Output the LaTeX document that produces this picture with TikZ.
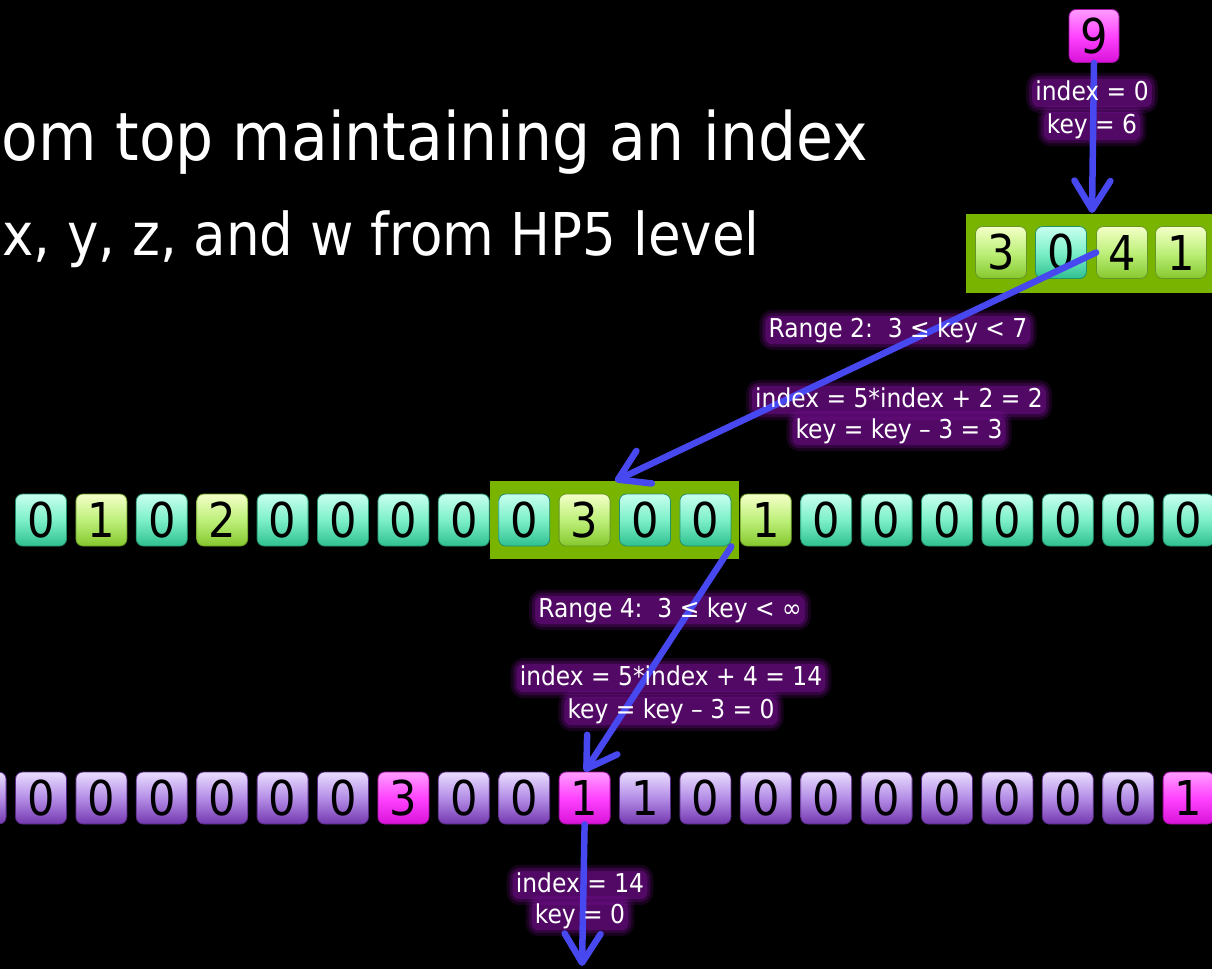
\documentclass[tikz,border=0pt]{standalone}
\usepackage{fontspec}
\setmainfont{DejaVu Sans Condensed}
\usetikzlibrary{arrows.meta}
\definecolor{tealTop}{HTML}{C8FFF0}
\definecolor{tealMid}{HTML}{7DF0C8}
\definecolor{tealBot}{HTML}{2FC090}
\definecolor{limeTop}{HTML}{F4FFC8}
\definecolor{limeMid}{HTML}{BDF07A}
\definecolor{limeBot}{HTML}{86C82E}
\definecolor{purTop}{HTML}{EADCFF}
\definecolor{purMid}{HTML}{B48EE6}
\definecolor{purBot}{HTML}{7438B0}
\definecolor{magTop}{HTML}{FF9CFF}
\definecolor{magMid}{HTML}{FF44FF}
\definecolor{magBot}{HTML}{D812D8}
\definecolor{hlgreen}{HTML}{78B400}
\definecolor{arrowc}{HTML}{4848F0}
\definecolor{glowc}{HTML}{A414CC}
\pgfdeclarelayer{back}
\pgfdeclarelayer{halo}
\pgfdeclarelayer{arrows}
\pgfsetlayers{back,halo,arrows,main}
\tikzset{
  cell/.style={rounded corners=7pt, minimum width=51pt, minimum height=52pt, inner sep=0pt,
    font=\fontsize{48}{48}\selectfont, text=black, line width=0.8pt},
  cellz/.style={cell, top color=tealTop, bottom color=tealBot, middle color=tealMid, draw=tealBot!75!black},
  celln/.style={cell, top color=limeTop, bottom color=limeBot, middle color=limeMid, draw=limeBot!75!black},
  cellp/.style={cell, top color=purTop, bottom color=purBot, middle color=purMid, draw=purBot!75!black},
  cellm/.style={cell, top color=magTop, bottom color=magBot, middle color=magMid, draw=magBot!75!black},
  hlbox/.style={fill=hlgreen, draw=none, inner sep=0pt},
  arr/.style={draw=arrowc, line width=6.5pt, line cap=round,
    -{Straight Barb[length=29pt, width=36pt, line cap=round, line join=round]}},
  lbl/.style={anchor=base, inner sep=0pt, text=white, font=\fontsize{26}{32}\selectfont,
    text height=19pt, text depth=5pt},
  title/.style={anchor=base east, inner sep=0pt, text=white}
}
\newcommand\halo[1]{%
  \begin{pgfonlayer}{halo}
    \fill[glowc, opacity=0.14, rounded corners=13pt] ([shift={(-9,-8)}]#1.north west) rectangle ([shift={(9,8)}]#1.south east);
    \fill[glowc, opacity=0.2, rounded corners=10pt] ([shift={(-6,-5)}]#1.north west) rectangle ([shift={(6,5)}]#1.south east);
    \fill[glowc, opacity=0.28, rounded corners=7pt] ([shift={(-3,-2)}]#1.north west) rectangle ([shift={(3,2)}]#1.south east);
  \end{pgfonlayer}}
\begin{document}
\begin{tikzpicture}[x=1pt,y=-1pt]
\useasboundingbox (0,0) rectangle (1212,969);
\begin{pgfonlayer}{back}
\fill[black] (0,0) rectangle (1212,969);
\clip (0,0) rectangle (1212,969);
% highlight rectangles
\node[hlbox, minimum width=264pt, minimum height=79pt] (thl) at (1098,253.5) {};
\node[hlbox, minimum width=249pt, minimum height=78pt] (mhl) at (614.5,520) {};
% top box
\node[cellm, minimum height=53pt, minimum width=50pt] (nine) at (1094,36) {9};
% top row
\node[celln] (t0) at (1001,252.5) {3};
\node[cellz] (t1) at (1061,252.5) {0};
\node[celln] (t2) at (1122,252.5) {4};
\node[celln] (t3) at (1181,252.5) {1};
% middle row
\foreach \s/\v [count=\i from 0] in {z/0,n/1,z/0,n/2,z/0,z/0,z/0,z/0,z/0,n/3,z/0,z/0,n/1,z/0,z/0,z/0,z/0,z/0,z/0,z/0}
  \node[cell\s] (mid\i) at ({41+60.4*\i},520) {\v};
% bottom row
\node[cellp] (botm) at ({41-60.4},798) {};
\foreach \s/\v [count=\i from 0] in {p/0,p/0,p/0,p/0,p/0,p/0,m/3,p/0,p/0,m/1,p/1,p/0,p/0,p/0,p/0,p/0,p/0,p/0,p/0,m/1}
  \node[cell\s] (bot\i) at ({41+60.4*\i},798) {\v};
\end{pgfonlayer}
% titles
\node[title, font=\fontsize{66.7}{70}\selectfont] (title1) at (868,160) {om top maintaining an index};
\node[title, font=\fontsize{59}{64}\selectfont] (title2) at (760,255) {x, y, z, and w from HP5 level};
% labels
\node[lbl] (l1a) at (1092,100) {index = 0};
\node[lbl] (l1b) at (1092,133) {key = 6};
\node[lbl] (l2) at (898,337) {Range 2:\ \ 3 ≤ key < 7};
\node[lbl] (l3a) at (899,407) {index = 5*index + 2 = 2};
\node[lbl] (l3b) at (899,438) {key = key – 3 = 3};
\node[lbl] (l4) at (670,617) {Range 4:\ \ 3 ≤ key < ∞};
\node[lbl] (l5a) at (671,685) {index = 5*index + 4 = 14};
\node[lbl] (l5b) at (671,718) {key = key – 3 = 0};
\node[lbl] (l6a) at (580,892) {index = 14};
\node[lbl] (l6b) at (580,923) {key = 0};
\foreach \n in {l1a,l1b,l2,l3a,l3b,l4,l5a,l5b,l6a,l6b} {\halo{\n}}
% arrows
\begin{pgfonlayer}{arrows}
\coordinate (a1e) at (1092,213);
\coordinate (a2e) at (615,481);
\coordinate (a4e) at (582,966);
\draw[arr] (nine.south) -- (a1e);
\draw[arr] (t2.west) -- (a2e);
\draw[arr] (mid11.south east) -- (bot9.north);
\draw[arr] (bot9.south) -- (a4e);
\end{pgfonlayer}
\end{tikzpicture}
\end{document}
